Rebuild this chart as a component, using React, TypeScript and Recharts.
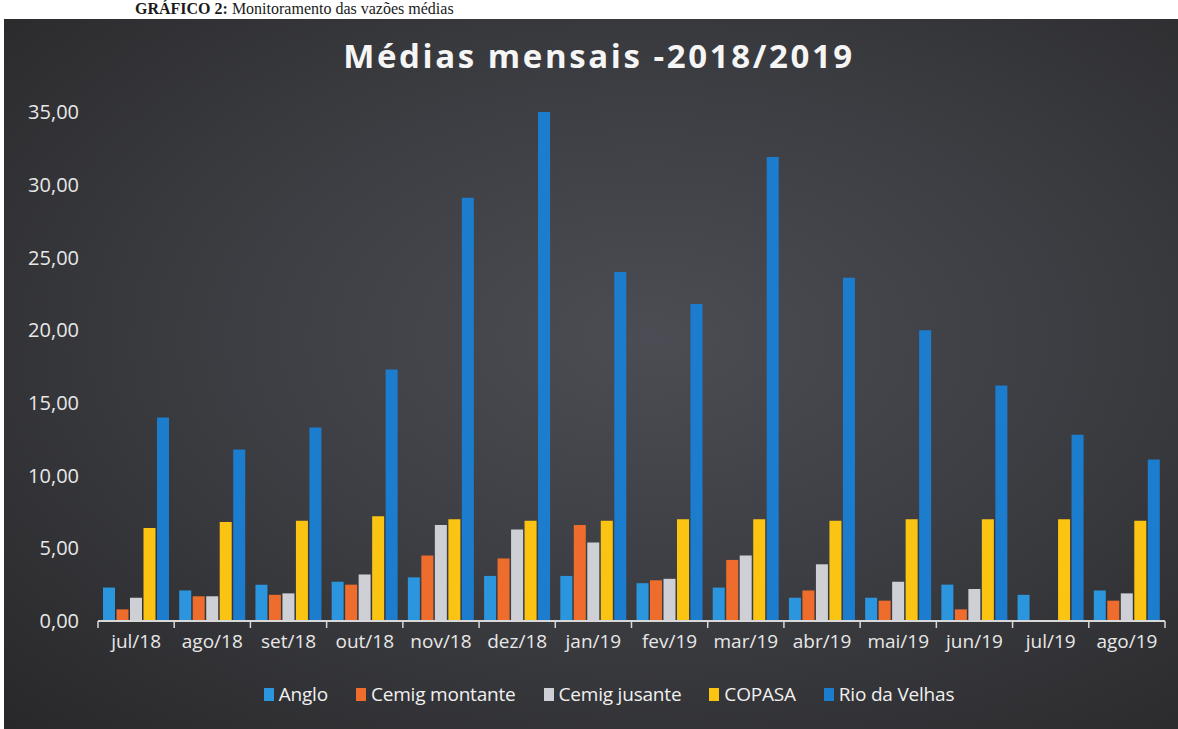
import { BarChart, Bar, XAxis, YAxis, Legend } from "recharts";

// ─── Data ──────────────────────────────────────────────────────────────────

const months = [
  "jul/18", "ago/18", "set/18", "out/18", "nov/18", "dez/18", "jan/19",
  "fev/19", "mar/19", "abr/19", "mai/19", "jun/19", "jul/19", "ago/19",
];
const anglo = [2.3, 2.1, 2.5, 2.7, 3.0, 3.1, 3.1, 2.6, 2.3, 1.6, 1.6, 2.5, 1.8, 2.1];
const cemigMontante = [0.8, 1.7, 1.8, 2.5, 4.5, 4.3, 6.6, 2.8, 4.2, 2.1, 1.4, 0.8, null, 1.4];
const cemigJusante = [1.6, 1.7, 1.9, 3.2, 6.6, 6.3, 5.4, 2.9, 4.5, 3.9, 2.7, 2.2, null, 1.9];
const copasa = [6.4, 6.8, 6.9, 7.2, 7.0, 6.9, 6.9, 7.0, 7.0, 6.9, 7.0, 7.0, 7.0, 6.9];
const rioVelhas = [14.0, 11.8, 13.3, 17.3, 29.1, 35.0, 24.0, 21.8, 31.9, 23.6, 20.0, 16.2, 12.8, 11.1];
const yTicks = [0, 5, 10, 15, 20, 25, 30, 35];

const series = [
  { key: "anglo", name: "Anglo", color: "#2b95de" },
  { key: "cemigMontante", name: "Cemig montante", color: "#ee6d2c" },
  { key: "cemigJusante", name: "Cemig jusante", color: "#cfcfd6" },
  { key: "copasa", name: "COPASA", color: "#fcc412" },
  { key: "rioVelhas", name: "Rio da Velhas", color: "#1c7dcf" },
];

const data = months.map((m, i) => ({
  month: m,
  anglo: anglo[i],
  cemigMontante: cemigMontante[i],
  cemigJusante: cemigJusante[i],
  copasa: copasa[i],
  rioVelhas: rioVelhas[i],
}));

const FONT = "'Open Sans', 'Noto Sans', sans-serif";

// ─── Axis tick with Excel-style boundary marks ────────────────────────────

function MonthTick(props: any) {
  const { x, y, payload, index, visibleTicksCount } = props;
  const half = payload?.offset ?? 0;
  const base = y - 14;
  const isLast = index === (visibleTicksCount ?? months.length) - 1;
  return (
    <g>
      <line x1={x - half} x2={x - half} y1={base} y2={base + 7} stroke="#d8d8d8" strokeWidth={1.5} />
      {isLast && <line x1={x + half} x2={x + half} y1={base} y2={base + 7} stroke="#d8d8d8" strokeWidth={1.5} />}
      <text x={x} y={y} dy="0.71em" textAnchor="middle" fill="#e8e8e8" fontSize={19} fontFamily={FONT}>
        {payload.value}
      </text>
    </g>
  );
}

// ─── Legend ────────────────────────────────────────────────────────────────

function LegendContent() {
  return (
    <div style={{ display: "flex", justifyContent: "center", gap: 28, paddingLeft: 36, fontFamily: FONT }}>
      {series.map((s) => (
        <div key={s.key} style={{ display: "flex", alignItems: "center", gap: 5 }}>
          <span style={{ width: 10, height: 13, background: s.color, display: "inline-block" }} />
          <span style={{ color: "#f0f0f0", fontSize: 19, letterSpacing: -0.2 }}>{s.name}</span>
        </div>
      ))}
    </div>
  );
}

// ─── Main ──────────────────────────────────────────────────────────────────

export default function App() {
  return (
    <div style={{ position: "absolute", left: 0, top: 0, width: 1178, height: 729, background: "#fff", overflow: "hidden" }}>
      <div
        style={{
          position: "absolute",
          left: 135,
          top: 0,
          fontFamily: "'Liberation Serif', 'DejaVu Serif', serif",
          fontSize: 16,
          lineHeight: "18px",
          color: "#1a1a1a",
          whiteSpace: "nowrap",
        }}
      >
        <b>GRÁFICO 2:</b> Monitoramento das vazões médias
      </div>
      <div
        style={{
          position: "absolute",
          left: 4,
          top: 19,
          width: 1174,
          height: 710,
          background: "radial-gradient(ellipse at 55% 45%, #4c4d54 0%, #3d3e43 45%, #28282a 100%)",
        }}
      >
        <div
          style={{
            position: "absolute",
            top: 14,
            left: 0,
            width: 1174,
            textAlign: "center",
            paddingLeft: 16,
            boxSizing: "border-box",
            fontFamily: FONT,
            fontWeight: 700,
            fontSize: 33,
            letterSpacing: 2.6,
            color: "#f5f5f5",
          }}
        >
          Médias mensais -2018/2019
        </div>
        <BarChart
          width={1174}
          height={710}
          data={data}
          margin={{ top: 93, right: 13, bottom: 63, left: 0 }}
          barCategoryGap={5}
          barGap={1.5}
          barSize={12}
        >
          <XAxis
            dataKey="month"
            axisLine={{ stroke: "#d8d8d8", strokeWidth: 2 }}
            tickLine={false}
            tickSize={0}
            tickMargin={14}
            height={45}
            interval={0}
            tick={<MonthTick />}
          />
          <YAxis
            width={94}
            domain={[0, 35]}
            ticks={yTicks}
            axisLine={false}
            tickLine={false}
            tickSize={0}
            tickMargin={19}
            tickFormatter={(v: number) => v.toFixed(2).replace(".", ",")}
            tick={{ fill: "#e8e8e8", fontSize: 20, fontFamily: FONT }}
          />
          <Legend
            layout="horizontal"
            verticalAlign="middle"
            align="center"
            content={<LegendContent />}
            wrapperStyle={{ top: 662, left: 0, width: 1174 }}
          />
          {series.map((s) => (
            <Bar key={s.key} dataKey={s.key} name={s.name} fill={s.color} isAnimationActive={false} />
          ))}
        </BarChart>
      </div>
    </div>
  );
}
